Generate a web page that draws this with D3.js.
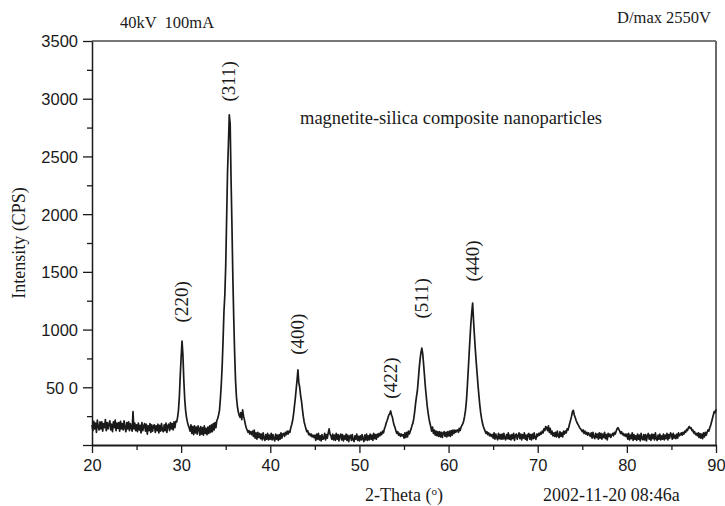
<!DOCTYPE html>
<html>
<head>
<meta charset="utf-8">
<script src="https://d3js.org/d3.v7.min.js"></script>
<title>XRD pattern</title>
<style type="text/css">
  body { margin: 0; background: #fff; }
  .serif { font-family: "Liberation Serif", "Times New Roman", serif; fill: #1a1a1a; }
  .axis text { font-family: "Liberation Sans", Arial, sans-serif; font-size: 16.5px; fill: #1a1a1a; }
  .axis line { stroke: #1a1a1a; stroke-width: 1.3; }
</style>
</head>
<body>
<div id="chart"></div>
<script>

// x axis: 2-theta, first reading and step between readings
var thetaStart = 20;
var thetaStep = 0.1;

// intensity (CPS), one row per degree (20.0 .. 20.9, 21.0 .. )
var intensity = [
  175,125,205,140,190,110,215,155,130,200,
  140,200,120,185,150,220,125,195,140,180,
  210,130,180,115,200,150,215,125,190,145,
  195,120,205,140,185,130,210,150,115,195,
  140,200,125,185,150,120,290,140,190,125,
  175,115,190,130,170,105,195,125,165,185,
  120,180,95,165,125,185,110,175,120,165,
  175,110,165,125,180,105,170,120,185,130,
  115,175,125,190,110,165,180,125,195,140,
  185,130,200,150,205,200,240,300,420,600,
  760,900,780,560,400,300,240,200,170,150,
  120,175,100,160,90,165,105,155,95,165,
  140,85,160,95,150,85,165,100,145,90,
  155,100,165,110,175,115,185,130,195,150,
  210,230,260,300,400,520,680,900,1150,1300,
  1550,1950,2350,2600,2860,2780,2300,1900,1450,1100,
  800,560,420,340,290,260,240,280,220,305,
  250,220,180,150,130,110,125,95,115,90,
  120,75,130,60,105,50,110,65,100,55,
  95,45,105,60,40,90,50,100,45,85,
  50,100,45,90,55,35,95,50,85,40,
  90,50,105,60,95,100,75,110,90,120,
  95,120,110,150,175,210,260,330,400,480,
  560,650,540,500,430,380,310,250,200,170,
  140,115,125,90,100,80,95,70,85,65,
  85,40,95,50,100,45,80,35,90,50,
  55,100,45,90,60,105,140,95,80,50,
  95,45,85,40,100,50,90,35,80,95,
  45,90,35,80,50,95,40,85,30,75,
  85,40,90,45,30,80,50,95,40,75,
  35,80,45,90,50,30,85,45,95,40,
  80,45,95,50,85,40,100,55,90,50,
  95,70,100,80,110,90,120,105,140,160,
  190,210,235,260,270,295,260,240,200,170,
  150,120,100,115,85,100,75,95,80,90,
  60,105,65,110,70,120,95,120,140,170,
  190,230,290,360,420,470,560,660,740,800,
  840,790,700,600,500,420,340,280,230,190,
  160,120,155,100,130,85,120,80,115,75,
  115,70,110,65,105,115,75,110,70,115,
  80,120,75,125,85,130,100,130,110,125,
  130,110,145,125,155,170,185,210,250,300,
  380,500,640,780,920,1050,1150,1230,1080,950,
  830,720,620,520,430,350,280,230,190,160,
  140,120,100,115,90,105,80,95,75,90,
  60,105,50,95,65,45,100,55,90,50,
  95,50,100,60,45,90,55,105,50,85,
  45,90,55,100,40,85,95,50,80,105,
  55,95,45,90,60,105,50,85,40,90,
  100,50,90,45,95,55,105,60,50,95,
  75,100,85,110,95,120,105,140,125,160,
  150,125,165,110,145,95,120,80,105,75,
  110,70,120,80,65,115,75,105,70,120,
  95,120,105,140,130,160,190,220,250,290,
  300,260,240,215,195,180,165,150,140,130,
  115,130,100,120,95,110,85,105,90,75,
  105,60,110,70,55,100,65,95,50,105,
  60,100,50,95,65,110,55,90,45,100,
  75,95,65,85,100,80,110,95,120,140,
  150,135,120,100,115,90,100,80,95,75,
  95,50,100,45,85,55,105,40,90,50,
  80,40,95,50,85,35,100,55,45,90,
  45,90,35,80,100,50,85,40,95,55,
  90,45,105,55,40,85,50,95,45,80,
  50,95,45,85,55,100,45,90,60,105,
  90,50,100,60,85,55,95,60,105,80,
  90,105,85,110,95,120,110,135,125,150,
  160,145,150,125,130,105,115,90,100,80,
  105,65,100,60,95,55,105,70,110,85,
  110,130,120,150,170,200,230,260,290,280,
  310
];

// peak labels (Miller indices) and where they sit
var peakNames = ["(220)", "(311)", "(400)", "(422)", "(511)", "(440)"];
var peakTheta = [30.1, 35.4, 43.1, 53.5, 57.0, 62.7];
var peakLabelCps = [1240, 3150, 960, 580, 1270, 1595];

// axis ticks
var xMajor = [20, 30, 40, 50, 60, 70, 80, 90];
var xMinor = [25, 35, 45, 55, 65, 75, 85];
var yMajor = [0, 500, 1000, 1500, 2000, 2500, 3000, 3500];
var yTickLabels = ["", "50 0", "1000", "1500", "2000", "2500", "3000", "3500"];
var yMinor = [250, 750, 1250, 1750, 2250, 2750, 3250];

// set the dimensions and margins of the graph
var margin = {top: 41, right: 9, bottom: 61, left: 92},
    width = 725 - margin.left - margin.right,
    height = 506 - margin.top - margin.bottom;

var svg = d3.select("#chart").append("svg")
  .attr("width", 725)
  .attr("height", 506);

var g = svg.append("g")
  .attr("transform", "translate(" + margin.left + "," + margin.top + ")");

var x = d3.scaleLinear().domain([20, 90]).range([0, width]);
var y = d3.scaleLinear().domain([0, 3500]).range([height, 0]);

var data = intensity.map(function(v, i) {
  return {theta: thetaStart + i * thetaStep, cps: v};
});

// frame (top + right)
g.append("line")
  .attr("x1", 0).attr("x2", width).attr("y1", 0).attr("y2", 0)
  .attr("stroke", "#4a4a4a").attr("stroke-width", 1.5);
g.append("line")
  .attr("x1", width).attr("x2", width).attr("y1", 0).attr("y2", height)
  .attr("stroke", "#6a6a6a").attr("stroke-width", 2);

// the scan
var line = d3.line()
  .x(function(d) { return x(d.theta); })
  .y(function(d) { return y(d.cps); });

g.append("path")
  .datum(data)
  .attr("fill", "none")
  .attr("stroke", "#1a1a1a")
  .attr("stroke-width", 1.7)
  .attr("stroke-linejoin", "round")
  .attr("d", line);

// x axis
var xAxis = g.append("g")
  .attr("class", "axis")
  .attr("transform", "translate(0," + height + ")")
  .call(d3.axisBottom(x).tickValues(xMajor).tickSize(8).tickSizeOuter(0).tickPadding(6)
    .tickFormat(function(d) { return d; }));
xAxis.select(".domain").attr("stroke", "#1a1a1a").attr("stroke-width", 2);

g.append("g")
  .attr("class", "axis")
  .attr("transform", "translate(0," + height + ")")
  .call(d3.axisBottom(x).tickValues(xMinor).tickSize(5).tickSizeOuter(0).tickFormat(""))
  .select(".domain").remove();

// y axis
var yAxis = g.append("g")
  .attr("class", "axis")
  .call(d3.axisLeft(y).tickValues(yMajor).tickSize(9).tickSizeOuter(0).tickPadding(5)
    .tickFormat(function(d, i) { return yTickLabels[i]; }));
yAxis.select(".domain").attr("stroke", "#1a1a1a").attr("stroke-width", 1.5);
yAxis.selectAll("text").attr("dy", "0.36em");

g.append("g")
  .attr("class", "axis")
  .call(d3.axisLeft(y).tickValues(yMinor).tickSize(5).tickSizeOuter(0).tickFormat(""))
  .select(".domain").remove();

// peak labels, rotated
g.selectAll(".peak")
  .data(peakNames)
  .enter().append("text")
  .attr("class", "serif peak")
  .attr("font-size", "19px")
  .attr("text-anchor", "middle")
  .attr("transform", function(d, i) {
    return "translate(" + (x(peakTheta[i]) + 6) + "," + y(peakLabelCps[i]) + ") rotate(-90)";
  })
  .text(function(d) { return d; });

// axis titles
svg.append("text")
  .attr("class", "serif")
  .attr("font-size", "18px")
  .attr("text-anchor", "middle")
  .attr("transform", "translate(25," + (margin.top + height / 2) + ") rotate(-90)")
  .text("Intensity (CPS)");

var xTitle = svg.append("text")
  .attr("class", "serif")
  .attr("font-size", "18px")
  .attr("text-anchor", "middle")
  .attr("x", margin.left + width / 2)
  .attr("y", 501);
xTitle.append("tspan").text("2-Theta (");
xTitle.append("tspan").attr("font-size", "11px").attr("dy", "-6").text("o");
xTitle.append("tspan").attr("dy", "6").text(")");

// annotations
svg.append("text")
  .attr("class", "serif")
  .attr("font-size", "16.5px")
  .attr("x", 120).attr("y", 28)
  .attr("xml:space", "preserve")
  .text("40kV  100mA");

svg.append("text")
  .attr("class", "serif")
  .attr("font-size", "16.5px")
  .attr("text-anchor", "end")
  .attr("x", 711).attr("y", 23)
  .text("D/max 2550V");

svg.append("text")
  .attr("class", "serif")
  .attr("font-size", "18.5px")
  .attr("x", 300).attr("y", 124)
  .text("magnetite-silica composite nanoparticles");

svg.append("text")
  .attr("class", "serif")
  .attr("font-size", "18px")
  .attr("x", 543).attr("y", 501)
  .text("2002-11-20 08:46a");

</script>
</body>
</html>
